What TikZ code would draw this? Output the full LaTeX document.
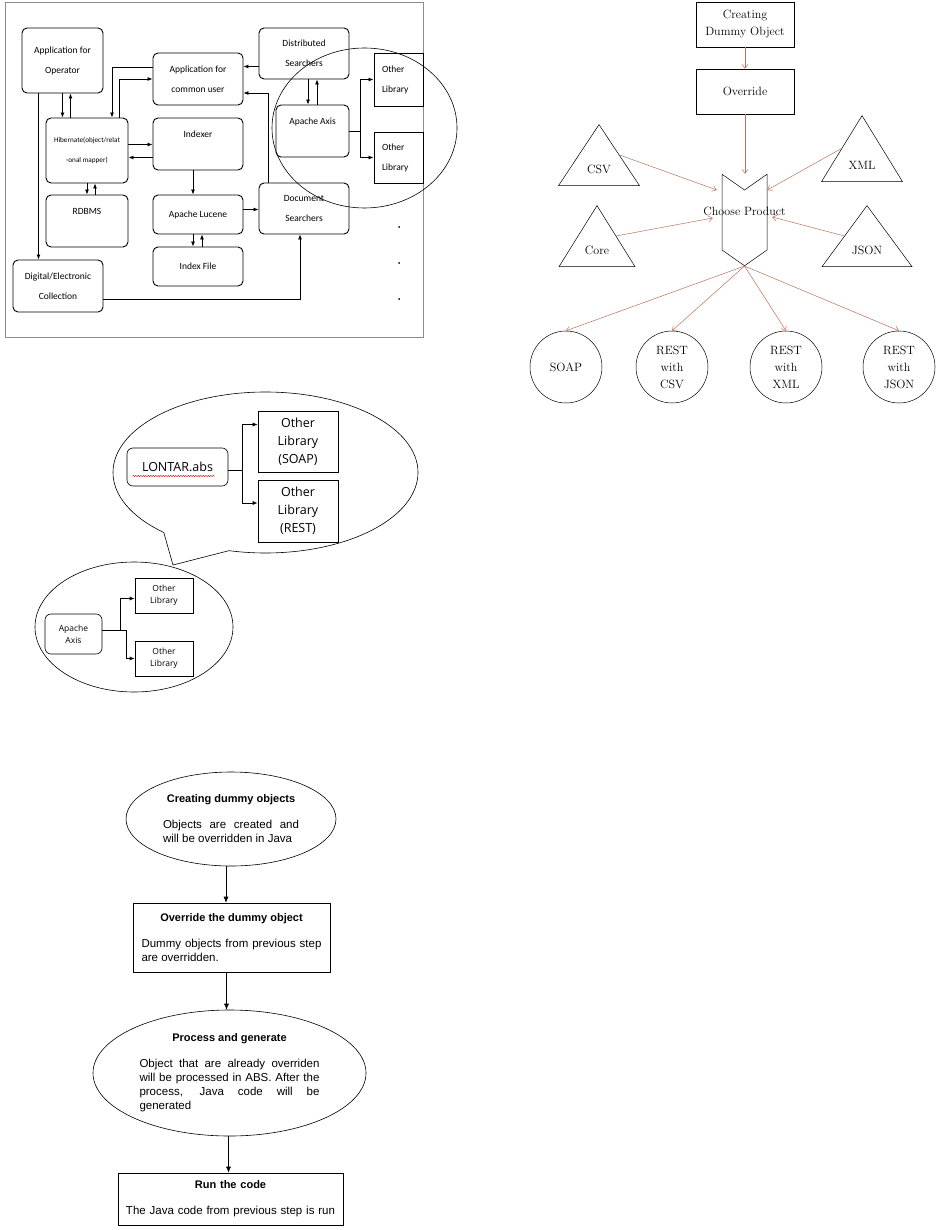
\documentclass[tikz,border=0pt]{standalone}
\usepackage{fontspec}
\newfontfamily\calfont{Carlito}
\newfontfamily\opensans{Open Sans}
\newfontfamily\arialfont{Liberation Sans}
\usepackage{tikz}
\usetikzlibrary{shapes.geometric, shapes.symbols, shapes.callouts,
    positioning, arrows.meta, calc, decorations.pathmorphing}
\definecolor{prodarrow}{RGB}{188,112,88}
\definecolor{framegray}{RGB}{140,140,140}

\begin{document}
\begin{tikzpicture}[x=1pt, y=-1pt,
  sysbox/.style={draw, rounded corners=5pt, line width=0.9pt, align=center,
    inner sep=0pt, font=\calfont\fontsize{9.5}{20}\selectfont},
  libbox/.style={draw, line width=0.9pt, align=left, inner sep=0pt,
    text width=33pt, font=\calfont\fontsize{9.5}{20}\selectfont},
  link/.style={-{Latex[length=5pt,width=4pt]}, line width=0.8pt},
  prodbox/.style={draw, line width=0.5pt, align=center, minimum width=98,
    minimum height=45, font=\fontsize{12}{17}\selectfont},
  fmt/.style={draw, isosceles triangle, isosceles triangle stretches,
    shape border rotate=90, inner sep=0pt, line width=0.5pt, anchor=apex},
  fmtlabel/.style={font=\fontsize{12}{17}\selectfont, anchor=south, yshift=9pt},
  outcome/.style={draw, circle, minimum size=72, inner sep=0pt, line width=0.5pt,
    align=center, font=\fontsize{12}{17}\selectfont},
  flow/.style={-{Straight Barb[length=4pt,width=6pt]}, draw=prodarrow, line width=0.5pt},
  absbox/.style={draw, rounded corners=6pt, line width=0.6pt, align=center,
    inner sep=0pt, font=\opensans\fontsize{12.5}{18}\selectfont},
  outbox/.style={draw, line width=0.6pt, align=center, inner sep=0pt,
    font=\opensans\fontsize{12.5}{18}\selectfont},
  smallfont/.style={font=\opensans\fontsize{8.5}{12}\selectfont},
  stepoval/.style={draw, ellipse, line width=0.6pt, inner sep=0pt, align=justify,
    font=\arialfont\fontsize{11.5}{14}\selectfont},
  stepbox/.style={draw, rectangle, line width=0.6pt, inner sep=0pt, align=justify,
    font=\arialfont\fontsize{11.5}{14}\selectfont},
  steplink/.style={-{Latex[length=6pt,width=5pt]}, line width=0.6pt}
]
  \useasboundingbox (0,0) rectangle (944,1230);

  % system overview
  \draw[framegray, line width=0.8pt] (5,2) rectangle (423,337);
  \node[sysbox, minimum width=81, minimum height=65] (oper) at (62.5,60.5) {Application for\\Operator};
  \node[sysbox, minimum width=90, minimum height=52] (cuser) at (198,79) {Application for\\common user};
  \node[sysbox, minimum width=90, minimum height=51] (dsearch) at (304,53.5) {Distributed\\Searchers};
  \node[libbox, minimum width=49, minimum height=53] (lib1) at (398.5,79.5) {Other\\Library};
  \node[libbox, minimum width=49, minimum height=51] (lib2) at (398.5,157.5) {Other\\Library};
  \node[sysbox, minimum width=73, minimum height=52] (axis) at (312.5,131) {Apache Axis\\\mbox{}};
  \node[sysbox, minimum width=82, minimum height=65, font=\calfont\fontsize{7.2}{20}\selectfont] (hib) at (87,150.5) {Hibernate(object/relat\\-onal mapper)};
  \node[sysbox, minimum width=90, minimum height=52] (idx) at (198,144) {Indexer\\\mbox{}};
  \node[sysbox, minimum width=82, minimum height=52] (rdbms) at (87,221) {RDBMS\\\mbox{}};
  \node[sysbox, minimum width=90, minimum height=39] (lucene) at (198,214.5) {Apache Lucene};
  \node[sysbox, minimum width=90, minimum height=51] (docs) at (304,208.5) {Document\\Searchers};
  \node[sysbox, minimum width=90, minimum height=39] (ifile) at (198,266.5) {Index File};
  \node[sysbox, minimum width=90, minimum height=52] (digit) at (58,286) {Digital/Electronic\\Collection};
  \node[draw, ellipse, line width=0.6pt, minimum width=185, minimum height=160] (axisring) at (364.5,128) {};
  \foreach \dy in {227,263,299}
    \fill (399,\dy) circle (1pt);

  \draw[link] (oper.south) -- (oper.south |- hib.north);
  \draw[link] ([xshift=8pt]oper.south |- hib.north) -- ([xshift=8pt]oper.south);
  \draw[link] ([xshift=-24pt]oper.south) -- ([xshift=-24pt]oper.south |- digit.north);
  \draw[link] ([yshift=12pt]cuser.west) -| ([xshift=25pt]hib.north);
  \draw[link] ([xshift=32pt]hib.north) |- (cuser.west);
  \draw[link] ([yshift=6pt]hib.east) -- ([yshift=6pt]hib.east -| idx.west);
  \draw[link] ([yshift=-7pt]hib.east -| idx.west) -- ([yshift=-7pt]hib.east);
  \draw[link] (hib.south) -- (rdbms.north);
  \draw[link] ([xshift=8pt]rdbms.north) -- ([xshift=8pt]hib.south);
  \draw[link] ([xshift=-5pt]idx.south) -- ([xshift=-5pt]lucene.north);
  \draw[link] ([xshift=-5pt]lucene.south) -- ([xshift=-5pt]ifile.north);
  \draw[link] ([xshift=4pt]ifile.north) -- ([xshift=4pt]lucene.south);
  \draw[link] ([yshift=5pt]lucene.east) -- ([yshift=5pt]lucene.east -| docs.west);
  \draw[link] ([yshift=-13pt]dsearch.west) -- ([yshift=-13pt]dsearch.west -| cuser.east);
  \draw[link] ([xshift=-36pt]docs.north) |- ([yshift=-14pt]cuser.east);
  \draw[link] ([xshift=4pt]dsearch.south) -- ([xshift=4pt]dsearch.south |- axis.north);
  \draw[link] ([xshift=13pt]dsearch.south |- axis.north) -- ([xshift=13pt]dsearch.south);
  \coordinate (fork1) at ([xshift=11pt]axis.east);
  \draw[link] (axis.east) -- (fork1) |- (lib1.west);
  \draw[link] (fork1) |- (lib2.west);
  \draw[link] ([yshift=-13pt]digit.east) -| ([xshift=-4pt]docs.south);

  % product line
  \node[prodbox] (creating) at (745,24.5) {Creating\\Dummy Object};
  \node[prodbox] (override) at (745,91.5) {Override};
  \node[draw, signal, signal from=north, signal to=south, signal pointer angle=110,
    minimum width=45, minimum height=60, inner sep=0pt, line width=0.5pt,
    label={[font=\fontsize{12}{17}\selectfont, yshift=9pt]center:Choose Product}] (chev) at (744.5,220) {};
  \node[fmt, minimum width=81, minimum height=61, label={[fmtlabel]south:CSV}] (csv) at (599,124) {};
  \node[fmt, minimum width=81, minimum height=66, label={[fmtlabel]south:XML}] (xml) at (862,115) {};
  \node[fmt, minimum width=76, minimum height=61, label={[fmtlabel]south:Core}] (core) at (597,205) {};
  \node[fmt, minimum width=90, minimum height=61, label={[fmtlabel]south:JSON}] (json) at (867,205) {};
  \node[outcome] (soap) at (566,367) {SOAP};
  \node[outcome] (restcsv) at (672,367) {REST\\with\\CSV};
  \node[outcome] (restxml) at (786,367) {REST\\with\\XML};
  \node[outcome] (restjson) at (899,367) {REST\\with\\JSON};

  \draw[flow] (creating) -- (override);
  \draw[flow] (override.south) -- (override.south |- chev.north east);
  \draw[flow] (csv.right side) -- ([xshift=-5pt,yshift=30pt]chev.west);
  \draw[flow] (xml.left side) -- ([yshift=30pt]chev.east);
  \draw[flow] (core.right side) -- ([xshift=-9pt,yshift=2pt]chev.west);
  \draw[flow] (json.left side) -- ([xshift=5pt,yshift=3pt]chev.east);
  \foreach \out in {soap,restcsv,restxml,restjson}
    \draw[flow] (chev.south) -- (\out.north);

  % zoomed library bubble
  \node[draw, ellipse callout, line width=0.6pt, minimum width=305, minimum height=161,
    callout absolute pointer={(173,565)}, callout pointer arc=28] (bubble) at (265.5,472.5) {};
  \node[absbox, minimum width=101, minimum height=38] (lontar) at (177.5,467) {LONTAR.abs};
  \draw[red, line width=0.4pt, decorate, decoration={snake, amplitude=0.7pt, segment length=2.5pt}]
    ([xshift=-45pt,yshift=-9pt]lontar.center) -- ([xshift=37pt,yshift=-9pt]lontar.center);
  \node[outbox, minimum width=80, minimum height=61] (soaplib) at (298,441.5) {Other\\Library\\(SOAP)};
  \node[outbox, minimum width=80, minimum height=62] (restlib) at (298,511) {Other\\Library\\(REST)};
  \coordinate (fork2) at ([xshift=14pt,yshift=-3pt]lontar.east);
  \draw[link] ([yshift=-3pt]lontar.east) -- (fork2) |- ([yshift=17pt]soaplib.west);
  \draw[link] (fork2) |- ([yshift=8pt]restlib.west);

  \node[draw, ellipse, line width=0.6pt, minimum width=198, minimum height=130] (axisbubble) at (134,627) {};
  \node[absbox, smallfont, minimum width=57, minimum height=40] (axis2) at (73.5,634) {Apache\\Axis};
  \node[outbox, smallfont, minimum width=58, minimum height=35] (otherA) at (164,595.5) {Other\\Library};
  \node[outbox, smallfont, minimum width=58, minimum height=35] (otherB) at (164,658.5) {Other\\Library};
  \coordinate (fork3) at ([xshift=18pt,yshift=4pt]axis2.east);
  \draw[link] ([yshift=4pt]axis2.east) -- (fork3) |- ([yshift=-3pt]otherA.west);
  \draw[link] (fork3) -- ++(6,0) |- (otherB.west);

  % generation steps
  \node[stepoval, minimum width=210, minimum height=94, text width=136pt] (dummy) at (231,819)
    {{\centering\fontsize{11}{14}\selectfont\bfseries Creating dummy objects\par}\vspace{12pt}Objects are created and\linebreak will be overridden in Java};
  \node[stepbox, minimum width=197, minimum height=69, text width=180pt] (override2) at (231.5,937.5)
    {{\centering\fontsize{11}{14}\selectfont\bfseries Override the dummy object\par}\vspace{12pt}Dummy objects from previous step\linebreak are overridden.};
  \node[stepoval, minimum width=273, minimum height=126, text width=180pt] (process) at (229.5,1073)
    {{\centering\fontsize{11}{14}\selectfont\bfseries Process and generate\par}\vspace{12pt}Object that are already overriden\linebreak will be processed in ABS. After the\linebreak process, Java code will be\linebreak generated};
  \node[stepbox, align=center, minimum width=225, minimum height=52, text width=212pt] (runcode) at (230.5,1199)
    {{\fontsize{11}{14}\selectfont\bfseries Run the code\par}\vspace{12pt}The Java code from previous step is run};

  \draw[steplink] ([xshift=-5pt]dummy.south) -- ([xshift=-5pt]dummy.south |- override2.north);
  \draw[steplink] ([xshift=-5pt]override2.south) -- ([xshift=-5pt]override2.south |- process.north);
  \draw[steplink] ([xshift=-1pt]process.south) -- ([xshift=-1pt]process.south |- runcode.north);
\end{tikzpicture}
\end{document}
